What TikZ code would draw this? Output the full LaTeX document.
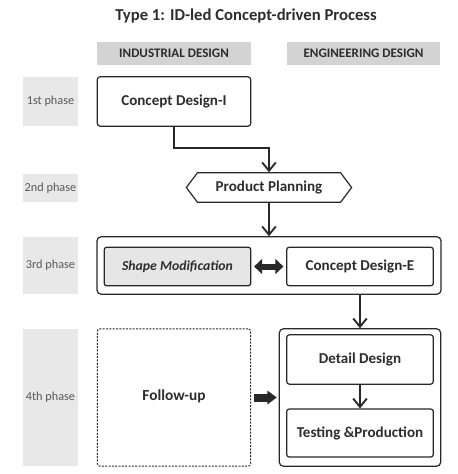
\documentclass[tikz,border=0pt]{standalone}
\usepackage{fontspec}
\setmainfont{Carlito}
\usepackage{tikz}
\usepackage{xcolor}
\usetikzlibrary{shapes.symbols, arrows.meta, positioning, calc}
\definecolor{cText}{RGB}{45,45,45}
\definecolor{cLine}{RGB}{40,40,40}
\definecolor{cHead}{RGB}{211,211,211}
\definecolor{cPhase}{RGB}{232,232,232}
\definecolor{cShape}{RGB}{230,230,230}
\tikzset{
    header/.style   ={rectangle, fill=cHead, inner sep=0pt, minimum width=115pt, minimum height=17pt, font=\fontsize{9.8}{11}\selectfont\bfseries, text=cText},
    phase/.style    ={rectangle, fill=cPhase, inner sep=0pt, minimum width=41pt, font=\fontsize{9.2}{11}\selectfont, text=black!65},
    stepbox/.style  ={rectangle, rounded corners=2pt, draw=cLine, line width=0.9pt, fill=white, inner sep=0pt, font=\fontsize{11.3}{13}\selectfont\bfseries, text=cText},
    groupbox/.style ={rectangle, rounded corners=3pt, draw=cLine, line width=0.9pt, inner sep=0pt},
    planbox/.style  ={signal, signal to=west and east, signal pointer angle=106, draw=cLine, line width=0.9pt, inner sep=0pt, font=\fontsize{11.3}{13}\selectfont\bfseries, text=cText},
    flowarrow/.style={-{Straight Barb[length=2.2mm, width=3.6mm]}, line width=1.4pt, draw=cLine},
    fatarrow/.style ={line width=4.5pt, draw=cLine},
}
\begin{document}
\begin{tikzpicture}[x=0.75pt, y=-0.75pt]
                \useasboundingbox (0,0) rectangle (457,474);
                \node[font=\fontsize{12.5}{14}\selectfont\bfseries, text=cText] (title) at (246,16) {Type 1: ID-led Concept-driven Process};
                \node[header] (hid) at (174,53.5) {INDUSTRIAL DESIGN};
                \node[header] (hed) at (363.5,53.5) {ENGINEERING DESIGN};
                % phases
                \node[phase, minimum height=37pt] (p1) at (50.5,101.5) {1st phase};
                \node[phase, minimum height=21pt] (p2) at (50.5,188) {2nd phase};
                \node[phase, minimum height=43pt] (p3) at (50.5,265.5) {3rd phase};
                \node[phase, minimum height=103pt] (p4) at (50.5,397.5) {4th phase};
                % steps
                \node[stepbox, minimum width=115pt, minimum height=37pt] (cdi) at (174,101.5) {Concept Design-I};
                \node[planbox, minimum width=124pt, minimum height=22pt] (pp) at (269,187.5) {Product Planning};
                \node[groupbox, minimum width=258pt, minimum height=43pt] (box3) at (269,265.5) {};
                \node[stepbox, fill=cShape, minimum width=110pt, minimum height=29pt, font=\fontsize{10.3}{12}\selectfont\bfseries\itshape] (sm) at (177.5,266.5) {Shape Modification};
                \node[stepbox, minimum width=110pt, minimum height=29pt] (cde) at (360,266.5) {Concept Design-E};
                \node[stepbox, dashed, dash pattern=on 1.5pt off 1pt, line width=0.7pt, minimum width=115pt, minimum height=103pt, font=\fontsize{11.5}{13}\selectfont\bfseries] (fu) at (174,397.5) {\raisebox{4pt}{Follow-up}};
                \node[groupbox, minimum width=121pt, minimum height=103pt] (box4) at (360,397.5) {};
                \node[stepbox, minimum width=110pt, minimum height=37pt] (dd) at (360,359.5) {Detail Design};
                \node[stepbox, minimum width=110pt, minimum height=36pt] (tp) at (360,433) {Testing \&Production};
                % connectors
                \draw[flowarrow](cdi.south)--++(0,21)-|(pp.north);
                \draw[flowarrow](pp.south)--(box3.north);
                \draw[flowarrow](cde|-box3.south)--(box4.north);
                \draw[flowarrow](dd)--(tp);
                \draw[fatarrow, {Triangle[length=6pt, width=11pt]}-{Triangle[length=6pt, width=11pt]}, shorten <=2pt, shorten >=2pt](sm)--(cde);
                \draw[fatarrow, line width=6pt, -{Triangle[length=7pt, width=10pt]}, shorten <=2pt, shorten >=1.5pt](fu)--(box4);
            \end{tikzpicture}
\end{document}
